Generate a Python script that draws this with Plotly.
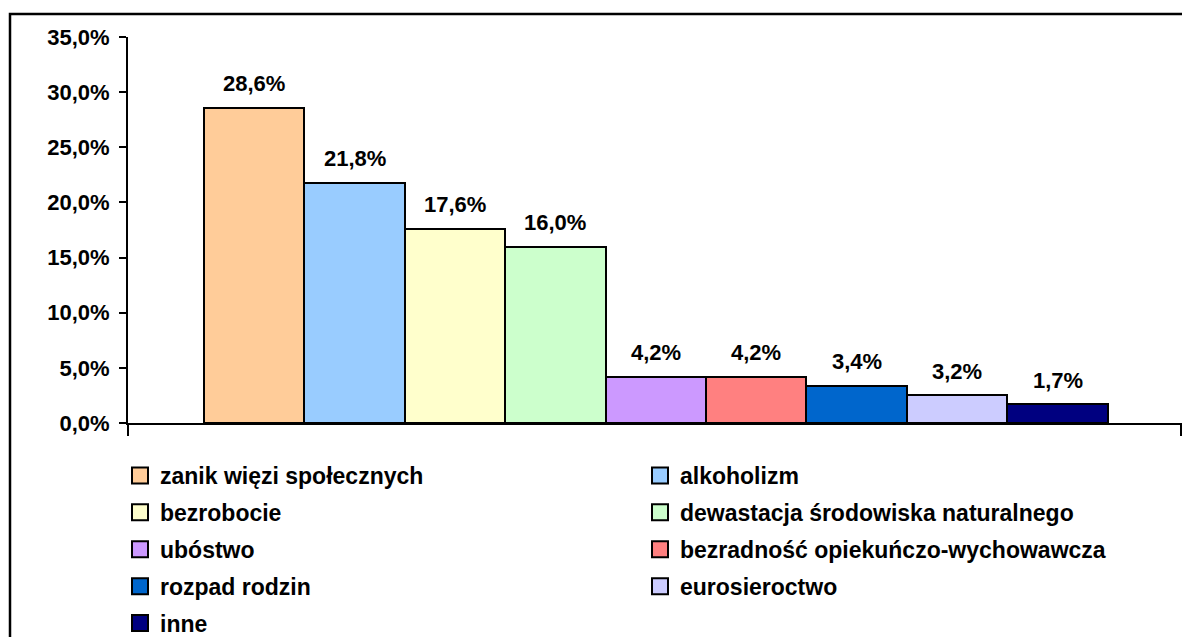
import plotly.graph_objects as go

categories = ["zanik więzi społecznych", "alkoholizm", "bezrobocie",
              "dewastacja środowiska naturalnego", "ubóstwo",
              "bezradność opiekuńczo-wychowawcza", "rozpad rodzin",
              "eurosieroctwo", "inne"]
values = [28.6, 21.8, 17.6, 16.0, 4.2, 4.2, 3.4, 2.5, 1.7]
value_labels = ["28,6%", "21,8%", "17,6%", "16,0%", "4,2%", "4,2%", "3,4%", "3,2%", "1,7%"]
colors = ["#FFCC99", "#99CCFF", "#FFFFCC", "#CCFFCC", "#CC99FF",
          "#FF8080", "#0066CC", "#CCCCFF", "#000080"]
y_ticks = [0, 5, 10, 15, 20, 25, 30, 35]
y_tick_labels = ["0,0%", "5,0%", "10,0%", "15,0%", "20,0%", "25,0%", "30,0%", "35,0%"]

FONT = "Liberation Sans, Arial, sans-serif"
W, H = 1182, 637
L, T = 128, 37
PLOT_BOTTOM = 423
PLOT_RIGHT = 1181
R, B = W - PLOT_RIGHT, H - PLOT_BOTTOM
PW, PH = PLOT_RIGHT - L, PLOT_BOTTOM - T


def px_x(p):  # page x -> paper
    return (p - L) / PW


def px_y(p):  # page y -> paper
    return (PLOT_BOTTOM - p) / PH


fig = go.Figure()
for c, v, col in zip(categories, values, colors):
    fig.add_trace(go.Bar(x=[c], y=[v], marker=dict(color=col, line=dict(color="black", width=2)),
                         showlegend=False, legendgroup=c, name=c, hoverinfo="x+y"))
for i, (c, col) in enumerate(zip(categories, colors)):
    fig.add_trace(go.Scatter(x=[None], y=[None], mode="markers", name=c, legendgroup=c,
                             marker=dict(symbol="square", size=16, color=col,
                                         line=dict(color="black", width=2)),
                             legend="legend" if i % 2 == 0 else "legend2"))

for c, v, t in zip(categories, values, value_labels):
    fig.add_annotation(x=c, y=v, text=t, showarrow=False, yshift=24,
                       font=dict(family=FONT, size=22, color="black", weight="bold"))

# category boundary ticks below the axis
for xp in (0, 1):
    fig.add_shape(type="line", xref="paper", yref="paper", x0=xp, x1=xp, y0=0,
                  y1=-13 / PH, line=dict(color="black", width=2))
# outer chart border
fig.add_shape(type="rect", xref="paper", yref="paper", x0=px_x(10), x1=px_x(1200),
              y0=px_y(660), y1=px_y(14), line=dict(color="black", width=2.5))

legend_common = dict(orientation="v", xanchor="left", yanchor="top", bgcolor="rgba(0,0,0,0)",
                     font=dict(family=FONT, size=23, color="black", weight="bold"),
                     tracegroupgap=4, itemclick=False, itemdoubleclick=False)

fig.update_layout(
    width=W, height=H, margin=dict(l=L, r=R, t=T, b=B, autoexpand=False),
    paper_bgcolor="white", plot_bgcolor="white",
    barmode="relative", bargap=0,
    legend=dict(x=px_x(120), y=px_y(454), **legend_common),
    legend2=dict(x=px_x(640), y=px_y(454), **legend_common),
    xaxis=dict(type="category", categoryorder="array", categoryarray=categories,
               range=[-1.257, 9.23], showticklabels=False, ticks="", showgrid=False,
               showline=True, linecolor="black", linewidth=2, zeroline=False),
    yaxis=dict(range=[0, 35], tickvals=y_ticks, ticktext=y_tick_labels,
               showgrid=False, zeroline=False, showline=True, linecolor="black", linewidth=2,
               ticks="outside", ticklen=7, tickwidth=2, tickcolor="black", ticklabelstandoff=5,
               tickfont=dict(family=FONT, size=22, color="black", weight="bold")),
    font=dict(family=FONT, color="black"),
)

fig.write_html("out.html", config={"displayModeBar": False},
               post_script="document.body.style.margin = '0';")
